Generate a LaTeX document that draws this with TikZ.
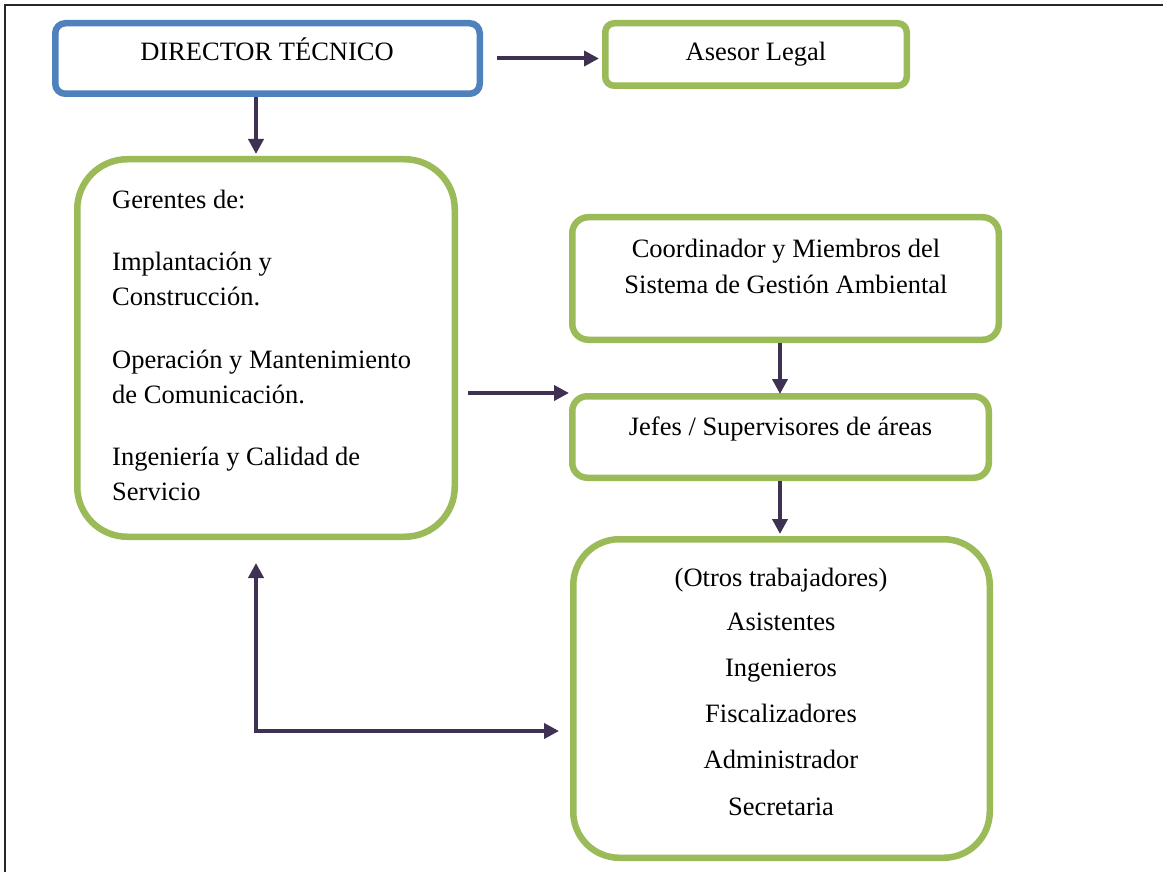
\documentclass[tikz,border=0pt]{standalone}
\usepackage{fontspec}
\setmainfont{Liberation Serif}
\usetikzlibrary{arrows.meta}
\definecolor{bblue}{HTML}{4F81BD}
\definecolor{bgreen}{HTML}{9BBB59}
\definecolor{apurple}{HTML}{3F3151}
\tikzset{
  box/.style={draw=#1, line width=6.5pt, rectangle, inner sep=0pt, fill=white},
  txt/.style={inner sep=0pt, font=\fontsize{26.5}{35}\selectfont},
  arr/.style={draw=apurple, line width=4pt, -{Triangle[length=15pt,width=15pt]}},
  arrb/.style={draw=apurple, line width=4pt, {Triangle[length=15pt,width=15pt]}-{Triangle[length=15pt,width=15pt]}}
}
\begin{document}
\begin{tikzpicture}[x=1pt,y=-1pt]
\useasboundingbox (0,0) rectangle (1163,872);
% frame
\draw[line width=2pt, black!85] (5,872) -- (5,5) -- (1163,5);
% boxes
\node[box=bblue, minimum width=424.5pt, minimum height=70.5pt, rounded corners=10pt] (dir) at (267.5,58.5) {};
\node[box=bgreen, minimum width=301.5pt, minimum height=62.5pt, rounded corners=9pt] (ase) at (756,54.5) {};
\node[box=bgreen, minimum width=377.5pt, minimum height=377.5pt, rounded corners=50pt] (ger) at (266,348) {};
\node[box=bgreen, minimum width=426.5pt, minimum height=122.5pt, rounded corners=16pt] (coo) at (785.5,278.5) {};
\node[box=bgreen, minimum width=416.5pt, minimum height=81.5pt, rounded corners=15pt] (jef) at (780.5,437) {};
\node[box=bgreen, minimum width=416.5pt, minimum height=318.5pt, rounded corners=46pt] (otr) at (781.5,698.5) {};
% texts
\node[txt, anchor=base] (tdir) at (267,61) {DIRECTOR TÉCNICO};
\node[txt, anchor=base] (tase) at (756,61) {Asesor Legal};
\node[txt, anchor=base west] (g1) at (112,208) {Gerentes de:};
\node[txt, anchor=base west] (g2) at (112,270) {Implantación y};
\node[txt, anchor=base west] (g3) at (112,305) {Construcción.};
\node[txt, anchor=base west] (g4) at (112,368) {Operación y Mantenimiento};
\node[txt, anchor=base west] (g5) at (112,403) {de Comunicación.};
\node[txt, anchor=base west] (g6) at (112,465) {Ingeniería y Calidad de};
\node[txt, anchor=base west] (g7) at (112,500) {Servicio};
\node[txt, anchor=base] (c1) at (786,258) {Coordinador y Miembros del};
\node[txt, anchor=base] (c2) at (786,293) {Sistema de Gestión Ambiental};
\node[txt, anchor=base] (tjef) at (780.5,435) {Jefes / Supervisores de áreas};
\node[txt, anchor=base] (o1) at (781,586) {(Otros trabajadores)};
\node[txt, anchor=base] (o2) at (781,630) {Asistentes};
\node[txt, anchor=base] (o3) at (781,676) {Ingenieros};
\node[txt, anchor=base] (o4) at (781,722) {Fiscalizadores};
\node[txt, anchor=base] (o5) at (781,768) {Administrador};
\node[txt, anchor=base] (o6) at (781,815) {Secretaria};
% connectors
\draw[arr] ([xshift=14pt]dir.east) -- ([xshift=-3pt]ase.west |- dir.east);
\draw[arr] (dir.south -| 256,0) -- ([yshift=2pt]ger.north -| 256,0);
\draw[arr] ([xshift=10pt]ger.east |- 0,393) -- (jef.west |- 0,393);
\draw[arr] (coo.south -| 780,0) -- ([yshift=-1pt]jef.north -| 780,0);
\draw[arr] (jef.south -| 780,0) -- ([yshift=2pt]otr.north -| 780,0);
\draw[arrb] ([yshift=-23pt]ger.south -| 256,0) |- ([xshift=-11pt]otr.west |- 0,731);
\end{tikzpicture}
\end{document}
